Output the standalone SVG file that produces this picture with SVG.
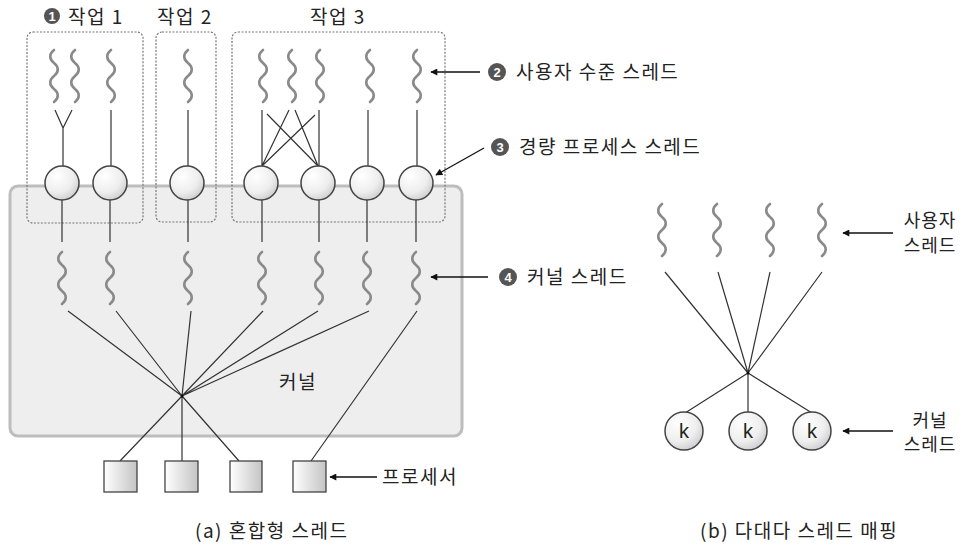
<svg xmlns="http://www.w3.org/2000/svg" xmlns:xlink="http://www.w3.org/1999/xlink" width="968" height="547" viewBox="0 0 968 547">
<defs>
<style>
text{font-family:"Noto Sans CJK KR","Liberation Sans",sans-serif;fill:#222}
.t{font-size:19px;letter-spacing:1.5px}
.s{font-size:18px;letter-spacing:1px}
.c{text-anchor:middle}
.job{fill:none;stroke:#777;stroke-width:1.2;stroke-dasharray:2 1.5}
.wave{fill:none;stroke:#8a8a8a;stroke-width:2.6;stroke-linecap:round}
.ln{stroke:#333;stroke-width:1.2;fill:none}
.lwp{fill:url(#cg);stroke:#444;stroke-width:1.5}
.cpu{fill:url(#rg);stroke:#444;stroke-width:1.3}
.arr{stroke:#111;stroke-width:1.3;fill:none;marker-end:url(#ah)}
.num{fill:#555}
.numt{fill:#fff;font-family:"Liberation Sans",sans-serif;font-weight:bold;font-size:13px;text-anchor:middle}
.k{font-family:"Liberation Sans",sans-serif;font-size:20px;text-anchor:middle}
</style>
<radialGradient id="cg" cx="0.35" cy="0.3" r="0.8">
<stop offset="0" stop-color="#ffffff"/><stop offset="0.6" stop-color="#eeeeee"/><stop offset="1" stop-color="#c8c8c8"/>
</radialGradient>
<linearGradient id="rg" x1="0" y1="0" x2="1" y2="0">
<stop offset="0" stop-color="#ffffff"/><stop offset="1" stop-color="#c4c4c4"/>
</linearGradient>
<marker id="ah" viewBox="0 0 10 10" refX="9" refY="5" markerWidth="9" markerHeight="7" markerUnits="userSpaceOnUse" orient="auto">
<path d="M0,0 L10,5 L0,10 z" fill="#111"/>
</marker>
<path id="w" class="wave" d="M2,0 c-5,4 -5,9 0,13 s5,9 0,13 s-5,9 0,13 s5,9 0,13"/>
</defs>

<!-- kernel area -->
<g id="kernel">
<rect x="10" y="186" width="452" height="250" rx="8" fill="#eeeeee" stroke="#bdbdbd" stroke-width="3"/>
<text class="t c" x="298" y="389">커널</text>
</g>

<!-- jobs -->
<g id="job1">
<rect class="job" x="27" y="32" width="116" height="191" rx="6"/>
<circle class="num" cx="52" cy="16" r="8"/><text class="numt" x="52" y="20.5">1</text>
<text class="t" x="68" y="24">작업 1</text>
</g>
<g id="job2">
<rect class="job" x="156" y="32" width="60" height="190" rx="6"/>
<text class="t c" x="185" y="24">작업 2</text>
</g>
<g id="job3">
<rect class="job" x="232" y="32" width="213" height="190" rx="6"/>
<text class="t c" x="338" y="24">작업 3</text>
</g>

<!-- user threads (a) -->
<g id="user-threads-a">
<use xlink:href="#w" x="52" y="50"/>
<use xlink:href="#w" x="73" y="50"/>
<use xlink:href="#w" x="109" y="50"/>
<use xlink:href="#w" x="186" y="50"/>
<use xlink:href="#w" x="261" y="50"/>
<use xlink:href="#w" x="290" y="50"/>
<use xlink:href="#w" x="318" y="50"/>
<use xlink:href="#w" x="368" y="50"/>
<use xlink:href="#w" x="415" y="50"/>
</g>

<!-- connectors -->
<g id="connectors">
<path class="ln" d="M55,110 L63,128 L72,110 M63,128 V166"/>
<path class="ln" d="M111,110 V166"/>
<path class="ln" d="M188,110 V166"/>
<path class="ln" d="M262,110 V166 M267,114 L318,166 M289,110 L262,166 M295,110 L318,166 M315,115 L262,166 M319,110 V166"/>
<path class="ln" d="M368,110 V166"/>
<path class="ln" d="M417,110 V166"/>
<path class="ln" d="M62,200 V242 M110,200 V242 M188,200 V242 M262,200 V242 M319,200 V242 M367,200 V242 M416,200 V242"/>
<path class="ln" d="M68,311 L182,396 M116,311 L182,396 M191,311 L182,396 M263,311 L182,396 M318,311 L182,396 M369,311 L182,396"/>
<path class="ln" d="M182,396 L120,461 M182,396 V461 M182,396 L239,461 M417,311 L311,461"/>
<path class="ln" d="M665,272 L748,373 M718,272 L748,373 M770,272 L748,373 M822,272 L748,373 M748,373 L685,413 M748,373 V412 M748,373 L812,413"/>
<circle cx="182" cy="396" r="1.5" fill="#111"/>
<circle cx="748" cy="373" r="1.5" fill="#111"/>
<path class="arr" d="M480,72 H431"/>
<path class="arr" d="M484,148 L436,175"/>
<path class="arr" d="M488,277 H431"/>
<path class="arr" d="M377,477 H330"/>
<path class="arr" d="M893,233 H843"/>
<path class="arr" d="M893,431 H843"/>
</g>

<!-- LWPs -->
<g id="lwps">
<circle class="lwp" cx="62" cy="183" r="17"/>
<circle class="lwp" cx="110" cy="183" r="17"/>
<circle class="lwp" cx="187" cy="183" r="17"/>
<circle class="lwp" cx="261" cy="183" r="17"/>
<circle class="lwp" cx="318" cy="183" r="17"/>
<circle class="lwp" cx="367" cy="183" r="17"/>
<circle class="lwp" cx="416" cy="183" r="17"/>
</g>

<!-- kernel threads (a) -->
<g id="kernel-threads-a">
<use xlink:href="#w" x="60" y="252"/>
<use xlink:href="#w" x="108" y="252"/>
<use xlink:href="#w" x="186" y="252"/>
<use xlink:href="#w" x="260" y="252"/>
<use xlink:href="#w" x="317" y="252"/>
<use xlink:href="#w" x="365" y="252"/>
<use xlink:href="#w" x="414" y="252"/>
</g>

<!-- processors -->
<g id="processors">
<rect class="cpu" x="104" y="461" width="33" height="31"/>
<rect class="cpu" x="165" y="461" width="33" height="31"/>
<rect class="cpu" x="230" y="461" width="32" height="31"/>
<rect class="cpu" x="293" y="461" width="33" height="31"/>
</g>

<!-- labels (a) -->
<g id="label-user">
<circle class="num" cx="497" cy="72" r="9"/><text class="numt" x="497" y="76.5">2</text>
<text class="t" x="516" y="79">사용자 수준 스레드</text>
</g>
<g id="label-lwp">
<circle class="num" cx="500" cy="147" r="9"/><text class="numt" x="500" y="151.5">3</text>
<text class="t" x="519" y="154">경량 프로세스 스레드</text>
</g>
<g id="label-kt">
<circle class="num" cx="508" cy="277" r="9"/><text class="numt" x="508" y="281.5">4</text>
<text class="t" x="527" y="284">커널 스레드</text>
</g>
<g id="label-cpu"><text class="t" x="382" y="484">프로세서</text></g>
<g id="caption-a"><text class="t" x="195" y="538">(a) 혼합형 스레드</text></g>

<!-- (b) -->
<g id="user-threads-b">
<use xlink:href="#w" x="660" y="204"/>
<use xlink:href="#w" x="715" y="204"/>
<use xlink:href="#w" x="768" y="204"/>
<use xlink:href="#w" x="820" y="204"/>
</g>
<g id="kernel-threads-b">
<circle class="lwp" cx="684" cy="431" r="19"/><text class="k" x="684" y="438">k</text>
<circle class="lwp" cx="748" cy="431" r="19"/><text class="k" x="748" y="438">k</text>
<circle class="lwp" cx="812" cy="431" r="19"/><text class="k" x="812" y="438">k</text>
</g>
<g id="label-ut-b">
<text class="s c" x="930" y="227"><tspan x="930" y="227">사용자</tspan><tspan x="930" y="252">스레드</tspan></text>
</g>
<g id="label-kt-b">
<text class="s c" x="930" y="427"><tspan x="930" y="427">커널</tspan><tspan x="930" y="451">스레드</tspan></text>
</g>
<g id="caption-b"><text class="t" x="700" y="538">(b) 다대다 스레드 매핑</text></g>
</svg>
